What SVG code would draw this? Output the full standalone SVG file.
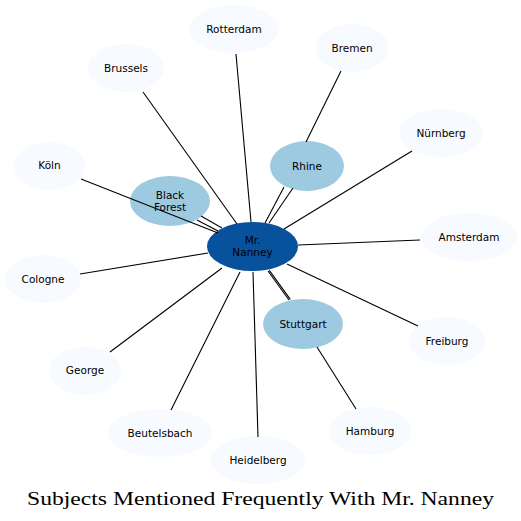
<svg xmlns="http://www.w3.org/2000/svg" width="521" height="521" viewBox="0 0 521 521">
<style>
.outer{fill:#f7fbff;stroke:none}
.inner{fill:#9ecae1;stroke:none}
.hub{fill:#08519c;stroke:none}
text{font-family:"DejaVu Sans",sans-serif;font-size:10.5px;fill:#000;text-anchor:middle}
.edges line{stroke:#000;stroke-width:1.1}
.title{font-family:"Liberation Serif","DejaVu Serif",serif;font-size:18px}
</style>
<rect width="521" height="521" fill="#fff"/>
<g id="nodes">
<g id="rotterdam"><ellipse class="outer" cx="234" cy="29" rx="45" ry="24"/><text x="234" y="32.7">Rotterdam</text></g>
<g id="bremen"><ellipse class="outer" cx="352" cy="48" rx="37" ry="24"/><text x="352" y="51.7">Bremen</text></g>
<g id="brussels"><ellipse class="outer" cx="126" cy="68" rx="38" ry="24"/><text x="126" y="71.7">Brussels</text></g>
<g id="nurnberg"><ellipse class="outer" cx="441" cy="133" rx="42" ry="24"/><text x="441" y="136.7">Nürnberg</text></g>
<g id="koln"><ellipse class="outer" cx="49.5" cy="166" rx="36" ry="24"/><text x="49.5" y="169.2">Köln</text></g>
<g id="amsterdam"><ellipse class="outer" cx="469" cy="237" rx="48" ry="24"/><text x="469" y="240.7">Amsterdam</text></g>
<g id="cologne"><ellipse class="outer" cx="43" cy="279" rx="38" ry="24"/><text x="43" y="282.7">Cologne</text></g>
<g id="freiburg"><ellipse class="outer" cx="447" cy="341" rx="38" ry="24"/><text x="447" y="344.7">Freiburg</text></g>
<g id="george"><ellipse class="outer" cx="85" cy="371" rx="36" ry="24"/><text x="85" y="374.2">George</text></g>
<g id="beutelsbach"><ellipse class="outer" cx="160" cy="433" rx="52" ry="24"/><text x="160" y="436.7">Beutelsbach</text></g>
<g id="hamburg"><ellipse class="outer" cx="370" cy="431" rx="41" ry="24"/><text x="370" y="434.7">Hamburg</text></g>
<g id="heidelberg"><ellipse class="outer" cx="258" cy="460" rx="47" ry="24"/><text x="258" y="463.7">Heidelberg</text></g>
<g id="rhine"><ellipse class="inner" cx="307" cy="166" rx="37" ry="25"/><text x="307" y="169.7">Rhine</text></g>
<g id="black-forest"><ellipse class="inner" cx="170" cy="201" rx="40" ry="25"/><text x="170" y="198.7">Black</text><text x="170" y="210.7">Forest</text></g>
<g id="stuttgart"><ellipse class="inner" cx="303" cy="324" rx="40" ry="25"/><text x="303" y="327.7">Stuttgart</text></g>
<g id="mr-nanney"><ellipse class="hub" cx="252.5" cy="246.5" rx="45.5" ry="24.5"/><text x="252.5" y="244.2">Mr.</text><text x="252.5" y="256.2">Nanney</text></g>
</g>
<g class="edges" id="connectors">
<line x1="236" y1="54" x2="251" y2="222"/>
<line x1="143" y1="92" x2="237" y2="224"/>
<line x1="284" y1="187" x2="265" y2="223"/>
<line x1="293" y1="188" x2="269" y2="223"/>
<line x1="341" y1="71" x2="306" y2="142"/>
<line x1="412" y1="151" x2="284" y2="229"/>
<line x1="81" y1="179" x2="218" y2="233"/>
<line x1="201" y1="216" x2="222" y2="228"/>
<line x1="197" y1="220" x2="218" y2="231"/>
<line x1="420" y1="240" x2="298" y2="245"/>
<line x1="80" y1="274" x2="208" y2="253"/>
<line x1="268" y1="271" x2="289" y2="300"/>
<line x1="269.3" y1="270.4" x2="290.3" y2="299.4"/>
<line x1="317" y1="347" x2="356" y2="409"/>
<line x1="418" y1="326" x2="287" y2="264"/>
<line x1="110" y1="352" x2="222" y2="268"/>
<line x1="171" y1="410" x2="240" y2="272"/>
<line x1="258" y1="437" x2="253" y2="272"/>
</g>
<text class="title" x="260.5" y="505" textLength="467" lengthAdjust="spacingAndGlyphs">Subjects Mentioned Frequently With Mr. Nanney</text>
</svg>
